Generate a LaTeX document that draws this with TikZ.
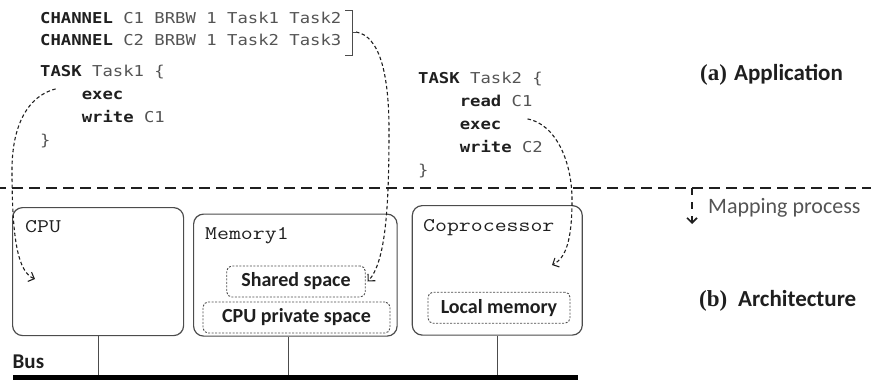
\documentclass[tikz,border=0pt]{standalone}
\usepackage{fontspec}
\newfontfamily\codefont[FakeStretch=1.15]{DejaVu Sans Mono}
\newfontfamily\labelfont{Carlito}
\newfontfamily\tagfont{Liberation Serif}
\usetikzlibrary{arrows.meta,calc}

\definecolor{ink}{gray}{0.12}
\definecolor{soft}{gray}{0.33}
\definecolor{frame}{gray}{0.30}
\newcommand\kw[1]{\textbf{\color{ink}#1}}
\newcommand\unitlabel[1]{\scalebox{1.2}[1]{#1}}

\tikzset{
  codeline/.style={anchor=base west, inner sep=0pt, text=soft,
    font=\codefont\fontsize{15}{18}\selectfont},
  unitname/.style={anchor=base west, inner sep=0pt, text=ink,
    font=\ttfamily\fontsize{19.3}{23}\selectfont},
  unitbox/.style={draw=frame, line width=1.2pt, rounded corners=10pt,
    anchor=north west, inner sep=0pt},
  region/.style={draw=frame, line width=0.9pt, dash pattern=on 2pt off 1.5pt,
    rounded corners=5pt, inner sep=0pt, text=ink,
    font=\labelfont\bfseries\fontsize{20}{24}\selectfont},
  caption/.style={anchor=base west, inner sep=0pt, text=ink,
    font=\labelfont\bfseries\fontsize{23}{27}\selectfont},
  tag/.style={anchor=base west, inner sep=0pt, text=ink,
    font=\tagfont\bfseries\fontsize{23}{27}\selectfont},
  mapflow/.style={draw=ink, line width=1.1pt, dash pattern=on 3.5pt off 2.5pt,
    -{Straight Barb[length=5pt,width=10pt]}},
  buslink/.style={draw=frame, line width=0.8pt},
}

\begin{document}
\begin{tikzpicture}[x=1pt,y=-1pt]
\useasboundingbox (0,0) rectangle (871,381);

% --- application description ---
\node[codeline] (ch1) at (40,23) {\kw{CHANNEL} C1 BRBW 1 Task1 Task2};
\node[codeline] (ch2) at (40,45) {\kw{CHANNEL} C2 BRBW 1 Task2 Task3};
\node[codeline] (t1head) at (40,76) {\kw{TASK} Task1 \{};
\node[codeline] (exec1) at (81.6,99) {\kw{exec}};
\node[codeline] (write1) at (81.6,122) {\kw{write} C1};
\node[codeline] (t1end) at (40,145) {\}};

\node[codeline] (t2head) at (418,83) {\kw{TASK} Task2 \{};
\node[codeline] (read2) at (459.6,106) {\kw{read} C1};
\node[codeline] (exec2) at (459.6,129) {\kw{exec}};
\node[codeline] (write2) at (459.6,152) {\kw{write} C2};
\node[codeline] (t2end) at (418,175) {\}};

% bracket grouping the two channels
\coordinate (brtop) at (345,10);
\coordinate (brbot) at (345,55);
\coordinate (brmid) at (356,32);
\draw[frame, line width=1pt] (brtop) -- (352,10) -- (352,55) -- (brbot);
\draw[frame, line width=1pt] (352,32) -- (brmid);

\node[tag] (appa) at (700,80) {(a)};
\node[caption] (apptitle) at (734,80) {Application};

% --- separator and mapping direction ---
\coordinate (sepl) at (0,188);
\coordinate (sepr) at (871,188);
\draw[ink, line width=2.2pt, dash pattern=on 11pt off 6pt, dash phase=5pt] (sepl) -- (sepr);
\coordinate (maptop) at (692,188);
\coordinate (mapend) at (692,224);
\draw[ink, line width=1.6pt, dash pattern=on 7pt off 7pt,
  -{Straight Barb[length=5pt,width=10pt]}] (maptop) -- (mapend);
\node[anchor=base west, inner sep=0pt, text=soft,
  font=\labelfont\fontsize{22}{26}\selectfont] (maplabel) at (708,213) {Mapping process};

% --- architecture ---
\node[unitbox, minimum width=171, minimum height=128] (cpu) at (12,207) {};
\node[unitbox, minimum width=203.5, minimum height=122] (mem) at (193,213.5) {};
\node[unitbox, minimum width=170, minimum height=129.5] (cop) at (411.7,205) {};

\node[unitname] (cpuname) at (25,232) {\unitlabel{CPU}};
\node[unitname] (memname) at (205,239.5) {\unitlabel{Memory1}};
\node[unitname] (copname) at (423,231.7) {\unitlabel{Coprocessor}};

\node[region, minimum width=138.5, minimum height=31] (shared) at (296,281.5) {Shared space};
\node[region, minimum width=187, minimum height=31] (private) at (296.5,317.5) {CPU private space};
\node[region, minimum width=142, minimum height=31] (local) at (499,307.7) {Local memory};

\node[tag] (archb) at (699,306.7) {(b)};
\node[caption] (archtitle) at (738,306.7) {Architecture};

% bus
\node[fill=black, inner sep=0pt, minimum width=565, minimum height=5, anchor=north west] (bus) at (13,375) {};
\node[anchor=base west, inner sep=0pt, text=ink,
  font=\labelfont\bfseries\fontsize{21}{25}\selectfont] (busname) at (12.5,368) {Bus};
\draw[buslink] (cpu.south) -- (cpu.south |- bus.north);
\draw[buslink] ($(mem.south)+(-7,0)$) -- ($(mem.south |- bus.north)+(-7,0)$);
\draw[buslink] (cop.south) -- (cop.south |- bus.north);

% --- mapping of tasks and channels onto the platform ---
\coordinate (cpuslot) at (35,279);
\coordinate (copslot) at (552,265);
\draw[mapflow] ($(exec1.west)+(-26,-6)$) .. controls (28,96) and (12,125) .. (12,170)
  .. controls (12,240) and (18,272) .. (cpuslot);
\draw[mapflow] ($(exec2.east)+(26,-6)$) .. controls (555,124) and (572,160) .. (572,200)
  .. controls (572,240) and (566,258) .. (copslot);
\draw[mapflow] (brmid) .. controls (380,36) and (389,75) .. (389,130)
  .. controls (389,205) and (386,262) .. ($(shared.east)+(2,0)$);
\end{tikzpicture}
\end{document}
